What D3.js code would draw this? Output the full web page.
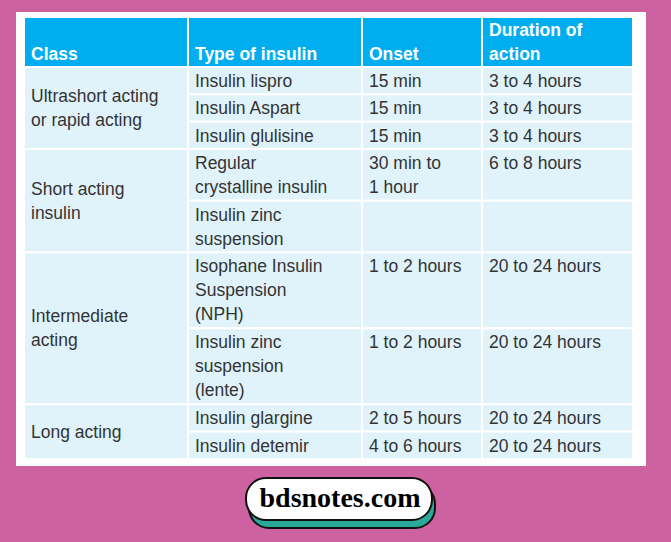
<!DOCTYPE html>
<html><head><meta charset="utf-8">
<script src="https://cdn.jsdelivr.net/npm/d3@7"></script>
<style>body{margin:0;background:#cc62a0;}</style>
</head><body>
<script>
// table content, one entry per row of the body
var headers = ["Class", "Type of insulin", "Onset", "Duration of\naction"];
var classes = ["Ultrashort acting\nor rapid acting", "Short acting\ninsulin", "Intermediate\nacting", "Long acting"];
var classRows = [3, 2, 2, 2];
var types = ["Insulin lispro", "Insulin Aspart", "Insulin glulisine", "Regular\ncrystalline insulin",
             "Insulin zinc\nsuspension", "Isophane Insulin\nSuspension\n(NPH)", "Insulin zinc\nsuspension\n(lente)",
             "Insulin glargine", "Insulin detemir"];
var onsets = ["15 min", "15 min", "15 min", "30 min to\n1 hour", "", "1 to 2 hours", "1 to 2 hours", "2 to 5 hours", "4 to 6 hours"];
var durations = ["3 to 4 hours", "3 to 4 hours", "3 to 4 hours", "6 to 8 hours", "", "20 to 24 hours", "20 to 24 hours", "20 to 24 hours", "20 to 24 hours"];

var W = 671, H = 542;
var svg = d3.select("body").append("svg").attr("width", W).attr("height", H);
svg.append("rect").attr("width", W).attr("height", H).attr("fill", "#cc62a0");
svg.append("rect").attr("x", 16).attr("y", 12).attr("width", 630).attr("height", 454).attr("fill", "#fff");

var colX = [24, 188, 362, 482, 633];
var tableTop = 17, headBottom = 67, tableBottom = 459;
var lineH = 24;

// row heights from the number of text lines in each row
var units = types.map(function (t, i) {
  var n = Math.max(t.split("\n").length, onsets[i].split("\n").length);
  return n * lineH + 3;
});
var cum = [0];
units.forEach(function (u) { cum.push(cum[cum.length - 1] + u); });
var y = d3.scaleLinear().domain([0, cum[cum.length - 1]]).range([headBottom, tableBottom]);

var g = svg.append("g").attr("font-family", "Liberation Sans, Arial, sans-serif").attr("font-size", 17.5);

function cell(x0, x1, y0, y1, fill) {
  g.append("rect").attr("x", x0).attr("y", y0).attr("width", x1 - x0).attr("height", y1 - y0)
    .attr("fill", fill).attr("stroke", "#fff").attr("stroke-width", 2);
}
function text(str, x, y0, color, bold) {
  var lines = str.split("\n");
  var t = g.append("text").attr("fill", color).attr("font-weight", bold ? "bold" : null);
  lines.forEach(function (l, k) {
    t.append("tspan").attr("x", x).attr("y", y0 + k * lineH).text(l);
  });
}

// header
headers.forEach(function (h, i) {
  cell(colX[i], colX[i + 1], tableTop, headBottom, "#00aeef");
  var n = h.split("\n").length;
  text(h, colX[i] + 7, headBottom - 7 - (n - 1) * lineH, "#fff", true);
});

// class column
var r = 0;
classes.forEach(function (c, i) {
  var y0 = y(cum[r]), y1 = y(cum[r + classRows[i]]);
  cell(colX[0], colX[1], y0, y1, "#e0f3fb");
  var n = c.split("\n").length;
  text(c, colX[0] + 7, (y0 + y1) / 2 - (n - 1) * lineH / 2 + 6, "#333", false);
  r += classRows[i];
});

// other columns
types.forEach(function (t, i) {
  var y0 = y(cum[i]), y1 = y(cum[i + 1]);
  [t, onsets[i], durations[i]].forEach(function (v, j) {
    cell(colX[j + 1], colX[j + 2], y0, y1, "#e0f3fb");
    text(v, colX[j + 1] + 7, y0 + 20, "#333", false);
  });
});

// site badge
svg.append("rect").attr("x", 249).attr("y", 484).attr("width", 186).attr("height", 44).attr("rx", 20)
  .attr("fill", "#2aa89a").attr("stroke", "#111").attr("stroke-width", 2);
svg.append("rect").attr("x", 246).attr("y", 478).attr("width", 186).attr("height", 42).attr("rx", 20)
  .attr("fill", "#fff").attr("stroke", "#111").attr("stroke-width", 2);
svg.append("text").attr("x", 340).attr("y", 507).attr("text-anchor", "middle")
  .attr("font-family", "Liberation Serif, serif").attr("font-size", 28).attr("font-weight", "bold").attr("fill", "#000")
  .text("bdsnotes.com");
</script>
</body></html>
